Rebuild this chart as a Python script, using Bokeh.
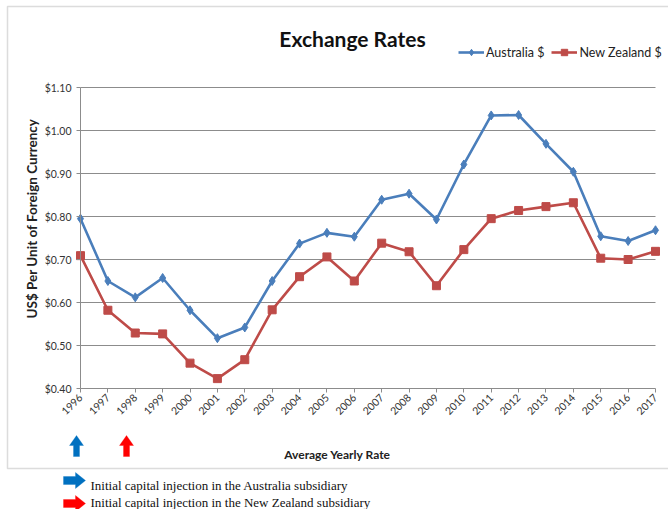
import math
from bokeh.plotting import figure
from bokeh.models import (Range1d, FixedTicker, NumeralTickFormatter, Label, Legend,
                          LegendItem, PolyAnnotation, BoxAnnotation)
from bokeh.embed import file_html
from bokeh.resources import INLINE

# ---------------- data ----------------
years = list(range(1996, 2018))
australia = [0.795, 0.650, 0.612, 0.657, 0.582, 0.517, 0.542, 0.650, 0.737, 0.762, 0.753,
             0.839, 0.853, 0.793, 0.921, 1.035, 1.036, 0.969, 0.904, 0.754, 0.743, 0.768]
new_zealand = [0.709, 0.582, 0.529, 0.527, 0.459, 0.423, 0.467, 0.583, 0.660, 0.706, 0.650,
               0.738, 0.718, 0.639, 0.723, 0.795, 0.814, 0.823, 0.832, 0.703, 0.700, 0.719]
y_ticks = [0.40, 0.50, 0.60, 0.70, 0.80, 0.90, 1.00, 1.10]
series_names = ["Australia $", "New Zealand $"]
chart_title = "Exchange Rates"
x_title = "Average Yearly Rate"
y_title = "US$ Per Unit of Foreign Currency"
notes = ["Initial capital injection in the Australia subsidiary",
         "Initial capital injection in the New Zealand subsidiary"]

BLUE = "#4A7EBB"
RED = "#BE4B48"
ARROW_BLUE = "#0070C0"
ARROW_RED = "#FF0000"
GRID = "#8C8C8C"
FONT = "Lato"

# canvas and plot-area placement (px)
W, H = 668, 509
PL, PR, PT, PB = 80, 655, 87, 388
ppx_x = (PR - PL) / (years[-1] - years[0])
ppx_y = (PB - PT) / (y_ticks[-1] - y_ticks[0])
x_start = years[0] - PL / ppx_x
x_end = years[-1] + (W - PR) / ppx_x
y_start = y_ticks[0] - (H - PB) / ppx_y
y_end = y_ticks[-1] + PT / ppx_y

p = figure(width=W, height=H, output_backend="svg", toolbar_location=None,
           x_range=Range1d(x_start, x_end), y_range=Range1d(y_start, y_end),
           min_border=0, min_border_left=0, min_border_right=0,
           min_border_top=0, min_border_bottom=0)
p.title.visible = False
p.outline_line_color = None
p.background_fill_color = "white"
p.border_fill_color = "white"
p.xgrid.visible = False
p.ygrid.visible = False

# screen helpers (page px from top-left -> screen units from bottom-left)
def sx(px):
    return px
def sy(py):
    return H - py

# axes fixed at the plot area's edges
p.xaxis.fixed_location = y_ticks[0]
p.xaxis.bounds = (years[0], years[-1])
p.yaxis.fixed_location = years[0]
p.yaxis.bounds = (y_ticks[0], y_ticks[-1])
p.yaxis.ticker = FixedTicker(ticks=y_ticks)
p.yaxis.formatter = NumeralTickFormatter(format="$0.00")
p.xaxis.ticker = FixedTicker(ticks=years)
p.xaxis.major_label_orientation = math.pi / 4
for ax in (p.xaxis, p.yaxis):
    ax.axis_line_color = GRID
    ax.major_tick_line_color = GRID
    ax.major_tick_out = 4
    ax.major_tick_in = 0
    ax.minor_tick_line_color = None
    ax.major_label_text_font = FONT
    ax.major_label_text_font_size = "10.5px"
    ax.major_label_text_color = "#333333"
p.xaxis.major_label_standoff = 3
p.yaxis.major_label_standoff = 5

# horizontal gridlines across the plot area
p.segment(x0=years[0], x1=years[-1], y0=y_ticks[1:], y1=y_ticks[1:],
          line_color=GRID, line_width=1)

# series
l1 = p.line(years, australia, line_color=BLUE, line_width=2.6)
s1 = p.scatter(years, australia, marker="diamond", size=9, fill_color=BLUE, line_color=BLUE)
l2 = p.line(years, new_zealand, line_color=RED, line_width=2.6)
s2 = p.scatter(years, new_zealand, marker="square", size=8, fill_color=RED, line_color=RED)

legend = Legend(items=[LegendItem(label=series_names[0], renderers=[l1, s1]),
                       LegendItem(label=series_names[1], renderers=[l2, s2])],
                location=(sx(458), sy(60)), orientation="horizontal",
                border_line_alpha=0, background_fill_alpha=0,
                glyph_width=26, glyph_height=16, label_standoff=2, spacing=7,
                padding=0, margin=0, label_height=16,
                label_text_font=FONT, label_text_font_size="12.5px", label_text_color="#222222")
p.add_layout(legend, "center")

# title and axis titles
p.add_layout(Label(x=sx(352), y=sy(38), x_units="screen", y_units="screen", text=chart_title,
                   text_align="center", text_baseline="middle", text_font=FONT,
                   text_font_style="bold", text_font_size="21px", text_color="#111111"))
p.add_layout(Label(x=sx(337), y=sy(454), x_units="screen", y_units="screen", text=x_title,
                   text_align="center", text_baseline="middle", text_font=FONT,
                   text_font_style="bold", text_font_size="12px", text_color="#222222"))
p.add_layout(Label(x=sx(31), y=sy(218), x_units="screen", y_units="screen", text=y_title,
                   angle=math.pi / 2, text_align="center", text_baseline="middle",
                   text_font=FONT, text_font_style="bold", text_font_size="13.5px",
                   text_color="#222222"))

# chart border (open on the right)
p.add_layout(BoxAnnotation(left=sx(7), right=sx(700), top=sy(6), bottom=sy(468),
                           left_units="screen", right_units="screen", top_units="screen",
                           bottom_units="screen", fill_alpha=0, line_color=GRID,
                           line_width=1.5, level="underlay"))

def up_arrow(cx, top, bottom, color):
    hw, sw, hh = 7, 3, 10
    xs = [cx, cx + hw, cx + sw, cx + sw, cx - sw, cx - sw, cx - hw]
    ys = [top, top + hh, top + hh, bottom, bottom, top + hh, top + hh]
    p.add_layout(PolyAnnotation(xs=[sx(v) for v in xs], ys=[sy(v) for v in ys],
                                xs_units="screen", ys_units="screen",
                                fill_color=color, fill_alpha=1, line_color=color))

def right_arrow(left, right, cy, color):
    hh, sh, hw = 8, 4, 10
    xs = [right, right - hw, right - hw, left, left, right - hw, right - hw]
    ys = [cy, cy - hh, cy - sh, cy - sh, cy + sh, cy + sh, cy + hh]
    p.add_layout(PolyAnnotation(xs=[sx(v) for v in xs], ys=[sy(v) for v in ys],
                                xs_units="screen", ys_units="screen",
                                fill_color=color, fill_alpha=1, line_color=color))

up_arrow(76, 435, 456, ARROW_BLUE)
up_arrow(126, 435, 456, ARROW_RED)
right_arrow(63, 85, 480, ARROW_BLUE)
right_arrow(63, 85, 503, ARROW_RED)

for text, cy in zip(notes, [485, 502]):
    p.add_layout(Label(x=sx(90), y=sy(cy), x_units="screen", y_units="screen", text=text,
                       text_align="left", text_baseline="middle",
                       text_font="Liberation Serif", text_font_size="13px",
                       text_color="#111111"))

open("out.html", "w").write(file_html(p, INLINE))
